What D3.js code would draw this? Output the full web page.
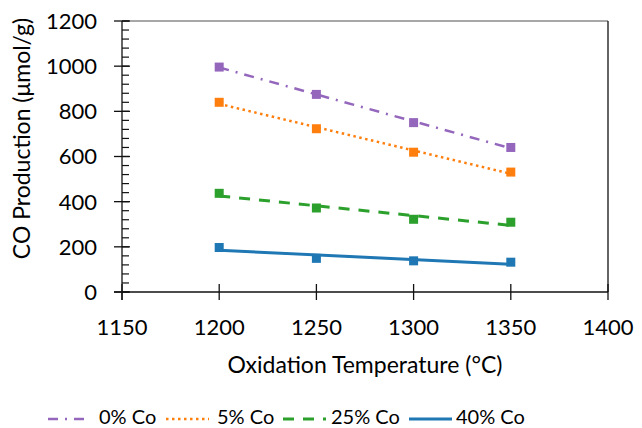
<!DOCTYPE html>
<html>
<head>
<meta charset="utf-8">
<script src="https://cdn.jsdelivr.net/npm/d3@7"></script>
<style>
  html, body { margin: 0; padding: 0; background: #fff; }
  svg text { font-family: Lato, "Open Sans", sans-serif; fill: #000; }
</style>
</head>
<body>
<svg id="chart" width="642" height="428"></svg>
<script>
// Oxidation temperatures (°C)
const temperatures = [1200, 1250, 1300, 1350];

// CO production (µmol/g) per cobalt loading
const co0  = [996, 875, 750, 640];
const co5  = [840, 723, 619, 531];
const co25 = [437, 372, 322, 309];
const co40 = [197, 149, 138, 132];

const seriesNames = ["0% Co", "5% Co", "25% Co", "40% Co"];
const seriesColors = ["#9467bd", "#ff7f0e", "#2ca02c", "#1f77b4"];
const seriesDash = ["10,7,2,7", "2.5,3.5", "11,9", null];
const seriesWidth = [2.5, 2.5, 3, 3];

const xTicks = [1150, 1200, 1250, 1300, 1350, 1400];
const yTicks = [0, 200, 400, 600, 800, 1000, 1200];
const yMinorTicks = d3.range(0, 1201, 40);

const allSeries = [co0, co5, co25, co40].map((vals, i) => ({
  name: seriesNames[i], color: seriesColors[i], dash: seriesDash[i], width: seriesWidth[i],
  points: vals.map((v, j) => ({ x: temperatures[j], y: v }))
}));

const svg = d3.select("#chart");
const margin = { left: 122, right: 34, top: 21, bottom: 136 };
const W = 642, H = 428;

const x = d3.scaleLinear().domain([1150, 1400]).range([margin.left, W - margin.right]);
const y = d3.scaleLinear().domain([0, 1200]).range([H - margin.bottom, margin.top]);

// Plot frame: grey top edge, dark right edge
svg.append("line")
  .attr("x1", x(1150)).attr("x2", x(1400))
  .attr("y1", y(1200)).attr("y2", y(1200))
  .attr("stroke", "#8a8a8a").attr("stroke-width", 1.5);
svg.append("line")
  .attr("x1", x(1400)).attr("x2", x(1400))
  .attr("y1", y(1200)).attr("y2", y(0))
  .attr("stroke", "#111").attr("stroke-width", 1.3);

// Y axis: minor ticks inside, major ticks crossing
const yAxisG = svg.append("g");
yAxisG.selectAll("line.minor").data(yMinorTicks).join("line")
  .attr("x1", x(1150)).attr("x2", x(1150) + 7)
  .attr("y1", d => y(d)).attr("y2", d => y(d))
  .attr("stroke", "#111").attr("stroke-width", 1.2);
yAxisG.selectAll("line.major").data(yTicks).join("line")
  .attr("x1", x(1150) - 8).attr("x2", x(1150) + 8)
  .attr("y1", d => y(d)).attr("y2", d => y(d))
  .attr("stroke", "#111").attr("stroke-width", 1.3);
yAxisG.append("line")
  .attr("x1", x(1150)).attr("x2", x(1150))
  .attr("y1", y(1200)).attr("y2", y(0) + 8)
  .attr("stroke", "#111").attr("stroke-width", 1.3);
yAxisG.selectAll("text").data(yTicks).join("text")
  .attr("x", x(1150) - 25).attr("y", d => y(d))
  .attr("dy", "0.36em").attr("text-anchor", "end")
  .attr("font-size", 22).text(d => d);

// X axis: crossing ticks
const xAxisG = svg.append("g");
xAxisG.append("line")
  .attr("x1", x(1150) - 8).attr("x2", x(1400))
  .attr("y1", y(0)).attr("y2", y(0))
  .attr("stroke", "#111").attr("stroke-width", 1.3);
xAxisG.selectAll("line.tick").data(xTicks).join("line")
  .attr("x1", d => x(d)).attr("x2", d => x(d))
  .attr("y1", y(0) - 8).attr("y2", y(0) + 8)
  .attr("stroke", "#111").attr("stroke-width", 1.3);
xAxisG.selectAll("text").data(xTicks).join("text")
  .attr("x", d => x(d)).attr("y", y(0) + 43)
  .attr("text-anchor", "middle").attr("font-size", 22).text(d => d);

// Axis titles
svg.append("text")
  .attr("x", (x(1150) + x(1400)) / 2).attr("y", 373)
  .attr("text-anchor", "middle").attr("font-size", 23)
  .text("Oxidation Temperature (°C)");
svg.append("text")
  .attr("transform", `translate(30,${(y(0) + y(1200)) / 2 - 18}) rotate(-90)`)
  .attr("text-anchor", "middle").attr("font-size", 23)
  .text("CO Production (μmol/g)");

// Least-squares trend line for each series
function linearFit(pts) {
  const mx = d3.mean(pts, p => p.x), my = d3.mean(pts, p => p.y);
  const sxy = d3.sum(pts, p => (p.x - mx) * (p.y - my));
  const sxx = d3.sum(pts, p => (p.x - mx) ** 2);
  const b = sxy / sxx, a = my - b * mx;
  return xv => a + b * xv;
}

const plot = svg.append("g");
allSeries.forEach(s => {
  const f = linearFit(s.points);
  const x0 = d3.min(temperatures), x1 = d3.max(temperatures);
  s.points.forEach(p => {
    plot.append("rect")
      .attr("x", x(p.x) - 4.5).attr("y", y(p.y) - 4.5)
      .attr("width", 9).attr("height", 9)
      .attr("fill", s.color);
  });
  plot.append("line")
    .attr("x1", x(x0)).attr("y1", y(f(x0)))
    .attr("x2", x(x1)).attr("y2", y(f(x1)))
    .attr("stroke", s.color).attr("stroke-width", s.width)
    .attr("stroke-dasharray", s.dash);
});

// Legend
const legendItems = [
  { lx: 48, tx: 99 },
  { lx: 166, tx: 217 },
  { lx: 283, tx: 331 },
  { lx: 409, tx: 456 }
];
const legend = svg.append("g");
allSeries.forEach((s, i) => {
  const it = legendItems[i];
  legend.append("line")
    .attr("x1", it.lx).attr("x2", it.lx + 43)
    .attr("y1", 419).attr("y2", 419)
    .attr("stroke", s.color).attr("stroke-width", s.width)
    .attr("stroke-dasharray", s.dash);
  legend.append("text")
    .attr("x", it.tx).attr("y", 424)
    .attr("font-size", 20).text(s.name);
});
</script>
</body>
</html>
